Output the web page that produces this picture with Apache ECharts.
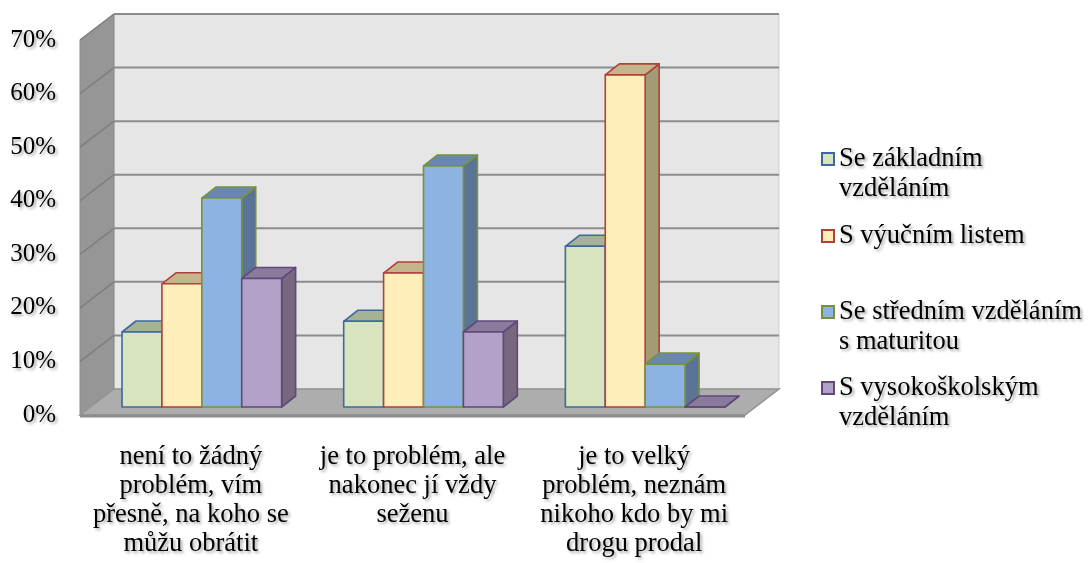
<!DOCTYPE html>
<html>
<head>
<meta charset="utf-8">
<script src="https://cdn.jsdelivr.net/npm/echarts@6/dist/echarts.min.js"></script>
<style>
  html, body { margin: 0; padding: 0; background: #fff; }
  #chart { width: 1091px; height: 563px; }
</style>
</head>
<body>
<div id="chart"></div>
<script>
// data
var categories = [
  'není to žádný\nproblém, vím\npřesně, na koho se\nmůžu obrátit',
  'je to problém, ale\nnakonec jí vždy\nseženu',
  'je to velký\nproblém, neznám\nnikoho kdo by mi\ndrogu prodal'
];
var seriesNames = [
  'Se základním vzděláním',
  'S výučním listem',
  'Se středním vzděláním s maturitou',
  'S vysokoškolským vzděláním'
];
var legendLabels = [
  '\nSe základním\nvzděláním',
  'S výučním listem',
  '\nSe středním vzděláním\ns maturitou',
  '\nS vysokoškolským\nvzděláním'
];
var zakladni = [0.14, 0.16, 0.30];
var vyucni = [0.23, 0.25, 0.62];
var stredni = [0.39, 0.45, 0.08];
var vysoka = [0.24, 0.14, 0.00];
var yMax = 0.7;
var yStep = 0.1;

var FONT = 'Liberation Serif, DejaVu Serif, serif';
var shadow = {
  textShadowColor: 'rgba(0,0,0,0.35)',
  textShadowBlur: 3,
  textShadowOffsetX: 2,
  textShadowOffsetY: 2
};

// fill, top face, side face, border
var styles = [
  { front: '#d7e4bd', top: '#a5b394', side: '#8e9c7c', border: '#3c6aa0' },
  { front: '#ffeeba', top: '#c4b58b', side: '#a39a76', border: '#b0403c' },
  { front: '#8db3e2', top: '#6a88ae', side: '#5a7396', border: '#76923c' },
  { front: '#b3a2c7', top: '#8a7b9c', side: '#76687f', border: '#5f497a' }
];

// offsets of the front edge and back wall from the bar plane
var FRONT = [-11, 8];
var BACK = [23, -18];
var DEPTH = [14, -11];
var BAR_RATIO = 0.18;

function wallsItem(params, api) {
  var cs = params.coordSys;
  var x0 = cs.x, x1 = cs.x + cs.width;
  function y(v) { return api.coord([0, v])[1]; }
  var y0 = y(0), yt = y(yMax);
  var kids = [];
  // back wall
  kids.push({
    type: 'polygon',
    shape: { points: [[x0 + BACK[0], yt + BACK[1]], [x1 + BACK[0], yt + BACK[1]],
                      [x1 + BACK[0], y0 + BACK[1]], [x0 + BACK[0], y0 + BACK[1]]] },
    style: { fill: '#e6e6e6', stroke: '#d0d0d0', lineWidth: 1 }
  });
  // left wall
  kids.push({
    type: 'polygon',
    shape: { points: [[x0 + FRONT[0], y0 + FRONT[1]], [x0 + FRONT[0], yt + FRONT[1]],
                      [x0 + BACK[0], yt + BACK[1]], [x0 + BACK[0], y0 + BACK[1]]] },
    style: { fill: '#969696', stroke: '#8a8a8a', lineWidth: 1 }
  });
  // grid lines
  for (var v = yStep; v <= yMax + 1e-9; v += yStep) {
    var yy = y(v);
    kids.push({
      type: 'line',
      shape: { x1: x0 + BACK[0], y1: yy + BACK[1], x2: x1 + BACK[0], y2: yy + BACK[1] },
      style: { stroke: '#8c8c8c', lineWidth: 2 }
    });
    kids.push({
      type: 'line',
      shape: { x1: x0 + FRONT[0], y1: yy + FRONT[1], x2: x0 + BACK[0], y2: yy + BACK[1] },
      style: { stroke: '#7e7e7e', lineWidth: 1.5 }
    });
  }
  // floor
  kids.push({
    type: 'polygon',
    shape: { points: [[x0 + FRONT[0], y0 + FRONT[1]], [x1 + FRONT[0], y0 + FRONT[1]],
                      [x1 + BACK[0], y0 + BACK[1]], [x0 + BACK[0], y0 + BACK[1]]] },
    style: { fill: '#adadad', stroke: '#939393', lineWidth: 1.5 }
  });
  kids.push({
    type: 'line',
    shape: { x1: x0 + FRONT[0], y1: y0 + FRONT[1] + 1, x2: x1 + FRONT[0], y2: y0 + FRONT[1] + 1 },
    style: { stroke: '#8c8c8c', lineWidth: 3 }
  });
  return { type: 'group', children: kids };
}

function barItem(si) {
  var st = styles[si];
  return function (params, api) {
    var cat = api.value(0);
    var base = api.coord([cat, 0]);
    var top = api.coord([cat, api.value(1)]);
    var w = api.size([1, 0])[0] * BAR_RATIO;
    var l = base[0] + (si - 2) * w;
    var r = l + w;
    var yt = top[1], yb = base[1];
    var dx = DEPTH[0], dy = DEPTH[1];
    var line = { stroke: st.border, lineWidth: 1.6, lineJoin: 'round' };
    return {
      type: 'group',
      children: [
        {
          type: 'polygon',
          shape: { points: [[r, yt], [r + dx, yt + dy], [r + dx, yb + dy], [r, yb]] },
          style: Object.assign({ fill: st.side }, line)
        },
        {
          type: 'polygon',
          shape: { points: [[l, yt], [l + dx, yt + dy], [r + dx, yt + dy], [r, yt]] },
          style: Object.assign({ fill: st.top }, line)
        },
        {
          type: 'rect',
          shape: { x: l, y: yt, width: w, height: yb - yt },
          style: Object.assign({ fill: st.front }, line)
        }
      ]
    };
  };
}

var allValues = [zakladni, vyucni, stredni, vysoka];

var series = [{
  type: 'custom',
  name: 'walls',
  xAxisIndex: 0,
  yAxisIndex: 0,
  silent: true,
  z: 1,
  renderItem: wallsItem,
  data: [[0, 0]]
}];
allValues.forEach(function (vals, si) {
  series.push({
    type: 'custom',
    name: seriesNames[si],
    xAxisIndex: 0,
    yAxisIndex: 0,
    z: 2,
    itemStyle: { color: styles[si].front, borderColor: styles[si].border },
    renderItem: barItem(si),
    data: vals.map(function (v, i) { return [i, v]; })
  });
});

var legendTops = [114, 221, 267, 343];
var legends = seriesNames.map(function (name, i) {
  return {
    orient: 'vertical',
    left: 821,
    top: legendTops[i],
    padding: 0,
    icon: 'rect',
    itemWidth: 12,
    itemHeight: 12,
    selectedMode: false,
    data: [name],
    itemStyle: { color: styles[i].front, borderColor: styles[i].border, borderWidth: 2 },
    formatter: function () { return legendLabels[i]; },
    textStyle: Object.assign({
      fontFamily: FONT, fontSize: 26.5, color: '#000', lineHeight: 30
    }, shadow)
  };
});

var chart = echarts.init(document.getElementById('chart'));
chart.setOption({
  animation: false,
  backgroundColor: '#fff',
  legend: legends,
  grid: [
    { left: 91, right: 335, top: 32, bottom: 156 },   // bar plane
    { left: 80, right: 346, top: 40, bottom: 148 }    // front edge
  ],
  xAxis: [
    { type: 'category', gridIndex: 0, data: categories, show: false },
    {
      type: 'category', gridIndex: 1, data: categories,
      axisLine: { show: false }, axisTick: { show: false },
      axisLabel: Object.assign({
        fontFamily: FONT, fontSize: 26.5, color: '#000', lineHeight: 29,
        margin: 28, interval: 0, align: 'center'
      }, shadow)
    }
  ],
  yAxis: [
    { type: 'value', gridIndex: 0, min: 0, max: yMax, interval: yStep, show: false },
    {
      type: 'value', gridIndex: 1, min: 0, max: yMax, interval: yStep,
      axisLine: { show: false }, axisTick: { show: false }, splitLine: { show: false },
      axisLabel: Object.assign({
        fontFamily: FONT, fontSize: 25, color: '#000', margin: 24,
        formatter: function (v) { return Math.round(v * 100) + '%'; }
      }, shadow)
    }
  ],
  series: series
});
</script>
</body>
</html>
